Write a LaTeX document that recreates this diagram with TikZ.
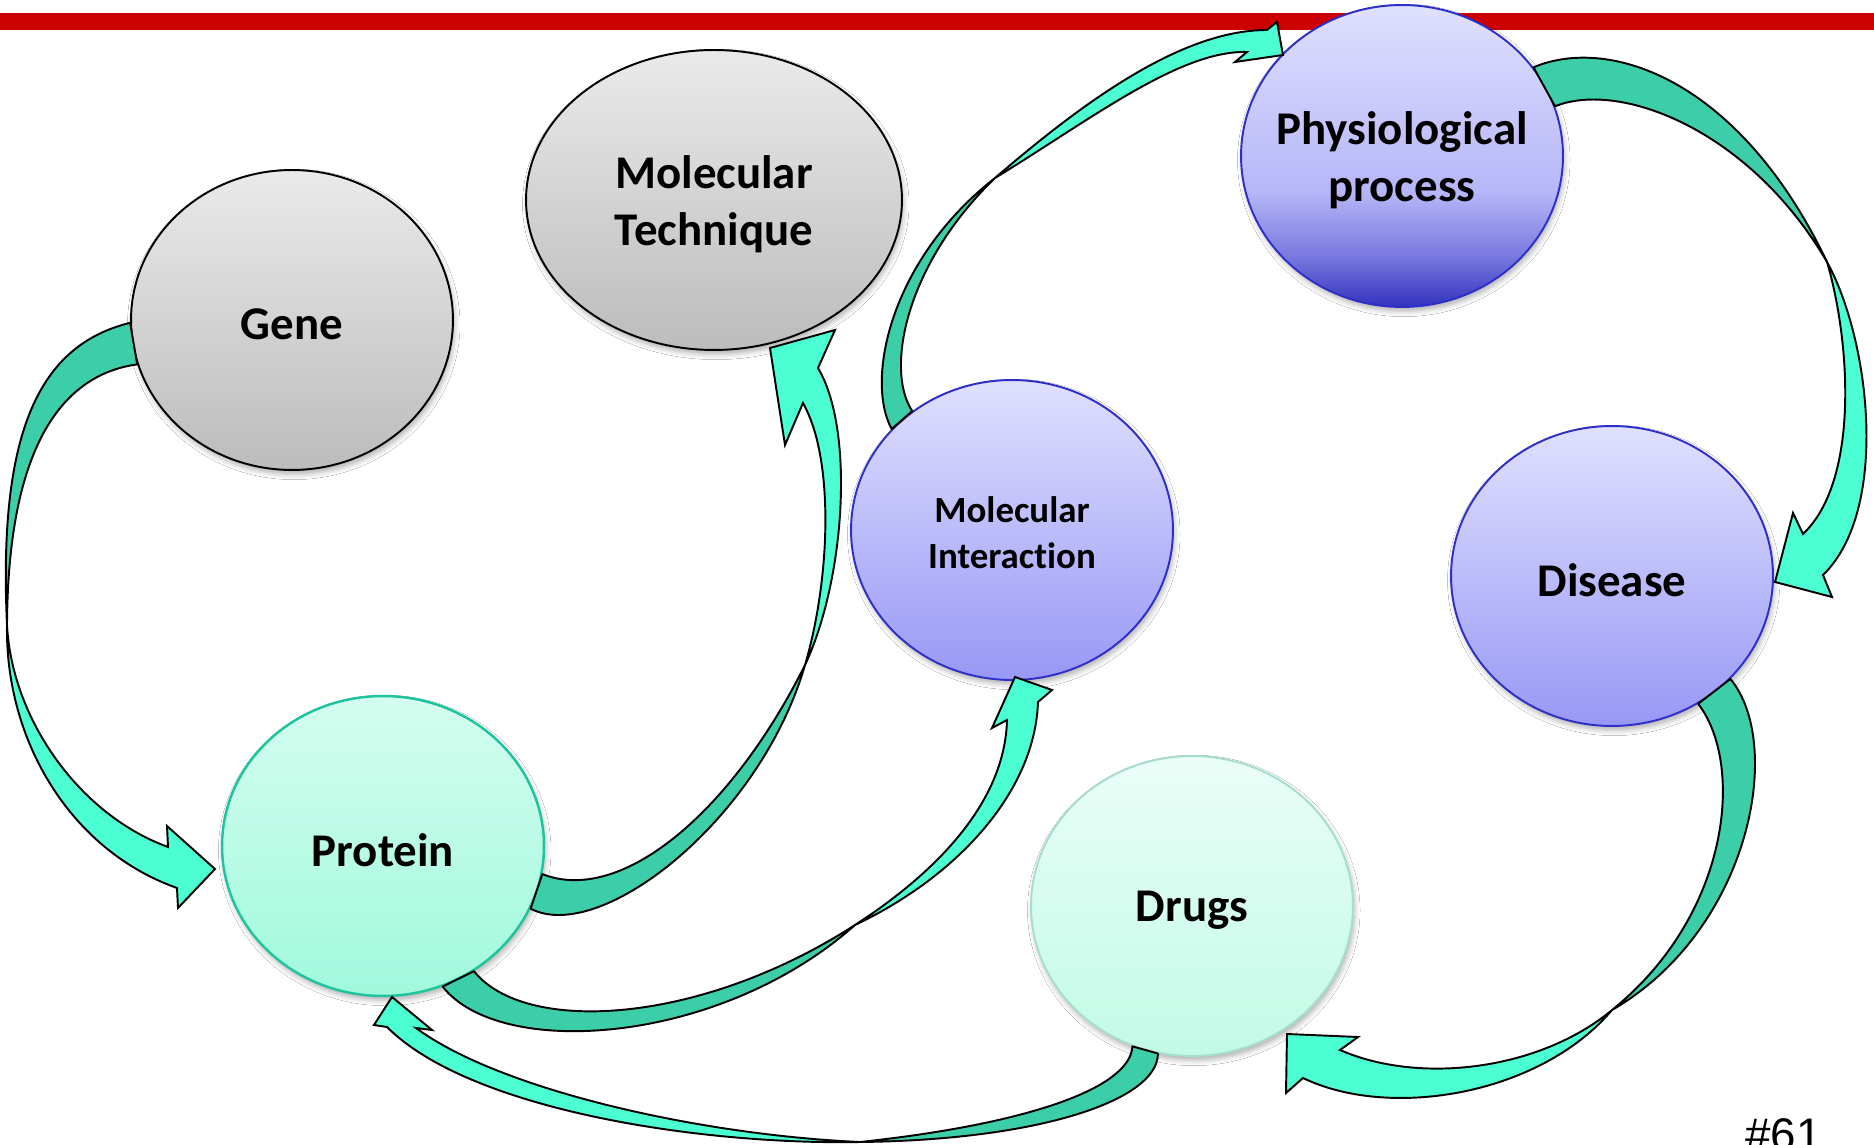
\documentclass[tikz,border=0pt]{standalone}
\usepackage{fontspec}
\setmainfont{Carlito}[Ligatures={NoCommon,NoRequired,NoContextual}]
\newfontfamily\slidenumfont{Liberation Sans}
\usetikzlibrary{shapes.geometric,shadows.blur}

\definecolor{barred}{RGB}{204,0,0}
\definecolor{ribbondark}{RGB}{60,206,168}
\definecolor{ribbonlight}{RGB}{75,255,211}
\definecolor{graytop}{RGB}{234,234,234}
\definecolor{graybot}{RGB}{188,188,188}
\definecolor{lavtop}{RGB}{224,224,254}
\definecolor{lavbot}{RGB}{152,152,246}
\definecolor{lavline}{RGB}{46,46,200}
\definecolor{physbot}{RGB}{50,50,190}
\definecolor{physlow}{RGB}{118,118,222}
\definecolor{physmid}{RGB}{182,182,248}
\definecolor{minttop}{RGB}{212,253,240}
\definecolor{mintbot}{RGB}{160,249,220}
\definecolor{mintline}{RGB}{30,196,158}
\definecolor{paletop}{RGB}{234,254,247}
\definecolor{palebot}{RGB}{194,250,230}
\definecolor{paleline}{RGB}{166,221,203}

% light lavender fading into deep blue near the bottom
\pgfdeclareverticalshading{physshade}{100bp}{color(0bp)=(physbot); color(25bp)=(physbot); color(33bp)=(physlow); color(44bp)=(physmid); color(75bp)=(lavtop); color(100bp)=(lavtop)}

\begin{document}
\begin{tikzpicture}[x=0.02cm, y=-0.02cm,
  bubble/.style={shape=ellipse, inner sep=0pt, minimum width=6.44cm, minimum height=6cm,
    line width=1.1pt,
    blur shadow={shadow xshift=1pt, shadow yshift=-2.5pt, shadow blur radius=3pt, shadow opacity=30}},
  graybubble/.style={bubble, draw=black, top color=graytop, bottom color=graybot},
  lavbubble/.style={bubble, draw=lavline, top color=lavtop, bottom color=lavbot},
  physbubble/.style={bubble, draw=lavline, shading=physshade},
  mintbubble/.style={bubble, draw=mintline, line width=1.4pt, top color=minttop, bottom color=mintbot},
  palebubble/.style={bubble, draw=paleline, top color=paletop, bottom color=palebot},
  labeltext/.style={font=\bfseries\fontsize{26.7pt}{32.5pt}\selectfont, align=center, inner sep=0pt, yshift=-2.5pt},
  smalltext/.style={font=\bfseries\fontsize{21pt}{26pt}\selectfont, align=center, inner sep=0pt, yshift=-1.5pt},
  ribbonback/.style={fill=ribbondark, draw=black, line width=1.1pt, line join=round},
  ribbonfront/.style={fill=ribbonlight, draw=black, line width=1.1pt, line join=miter},
]
\useasboundingbox (0,0) rectangle (1874,1145);
\fill[white] (0,0) rectangle (1874,1145);

% title rule
\fill[barred] (0,13) rectangle (1874,30);

% bubbles
\node[graybubble] (gene) at (292,320) {};
\node[graybubble, minimum width=7.52cm] (tech) at (714,200) {};
\node[physbubble, minimum height=6.04cm] (phys) at (1402,156) {};
\node[lavbubble] (inter) at (1012,530) {};
\node[lavbubble] (disease) at (1612,576) {};
\node[mintbubble] (protein) at (383,846) {};
\node[palebubble] (drugs) at (1192,906) {};

% bubble labels
\node[labeltext] (gene-label) at (gene) {Gene};
\node[labeltext] (tech-label) at (tech) {Molecular\\Technique};
\node[labeltext] (phys-label) at (phys) {Physiological\\process};
\node[smalltext] (inter-label) at (inter) {Molecular\\Interaction};
\node[labeltext] (disease-label) at (disease) {Disease};
\node[labeltext] (protein-label) at (protein) {Protein};
\node[labeltext] (drugs-label) at (drugs) {Drugs};

% Gene -> Protein
\draw[ribbonback] (gene.181.8) .. controls (40,345) and (-2,430) .. (7,625)
  .. controls (8,450) and (60,375) .. (gene.196.9) -- cycle;
\draw[ribbonfront] (7,625) .. controls (12,720) and (80,815) .. (168,847)
  -- (167,826) -- (215,869) -- (178,908) -- (177,888)
  .. controls (70,850) and (5,740) .. (7,625) -- cycle;

% Protein -> Molecular Technique
\draw[ribbonback] (protein.350.5) .. controls (620,905) and (730,815) .. (805,665)
  .. controls (760,820) and (600,945) .. (protein.337.3) -- cycle;
\draw[ribbonfront] (805,665) .. controls (830,580) and (835,460) .. (803,403)
  -- (785,445) -- (770,348) -- (835,330) -- (818,368)
  .. controls (855,430) and (845,580) .. (805,665) -- cycle;

% Protein -> Molecular Interaction
\draw[ribbonback] (protein.306.7) .. controls (525,1035) and (700,1025) .. (855,925)
  .. controls (720,1045) and (500,1060) .. (protein.293.9) -- cycle;
\draw[ribbonfront] (855,925) .. controls (940,870) and (1005,800) .. (1007,720)
  -- (992,728) -- (1015,677) -- (1052,690) -- (1038,702)
  .. controls (1035,790) and (960,875) .. (855,925) -- cycle;

% Molecular Interaction -> Physiological process
\draw[ribbonback] (inter.140.9) .. controls (865,380) and (890,260) .. (995,178)
  .. controls (905,265) and (885,370) .. (inter.130.6) -- cycle;
\draw[ribbonfront] (995,178) .. controls (1080,105) and (1180,30) .. (1267,30)
  -- (1277,22) -- (1283,55) -- (1235,62) -- (1247,52)
  .. controls (1180,50) and (1090,120) .. (995,178) -- cycle;

% Physiological process -> Disease
\draw[ribbonback] (phys.34.3) .. controls (1610,35) and (1740,80) .. (1827,262)
  .. controls (1750,130) and (1620,80) .. (phys.18.5) -- cycle;
\draw[ribbonfront] (1827,262) .. controls (1850,340) and (1860,480) .. (1803,534)
  -- (1793,513) -- (1775,582) -- (1832,597) -- (1823,575)
  .. controls (1890,510) and (1870,340) .. (1827,262) -- cycle;

% Disease -> Drugs
\draw[ribbonback] (disease.319) .. controls (1785,745) and (1750,930) .. (1612,1010)
  .. controls (1730,915) and (1745,765) .. (disease.304) -- cycle;
\draw[ribbonfront] (1612,1010) .. controls (1540,1070) and (1420,1085) .. (1340,1050)
  -- (1358,1037) -- (1287,1034) -- (1286,1093) -- (1303,1078)
  .. controls (1390,1120) and (1540,1095) .. (1612,1010) -- cycle;

% Drugs -> Protein
\draw[ribbonback] (drugs.257.6) .. controls (1158,1100) and (1040,1140) .. (860,1142)
  .. controls (1020,1125) and (1130,1090) .. (drugs.247.3) -- cycle;
\draw[ribbonfront] (860,1142) .. controls (700,1135) and (500,1090) .. (416,1028)
  -- (432,1030) -- (392,997) -- (374,1025) -- (387,1027)
  .. controls (470,1110) and (700,1145) .. (860,1142) -- cycle;

% slide number
\node[font=\slidenumfont\fontsize{26pt}{30pt}\selectfont, anchor=base west, inner sep=0pt] (slide-num) at (1745,1150) {\#61};
\end{tikzpicture}
\end{document}
